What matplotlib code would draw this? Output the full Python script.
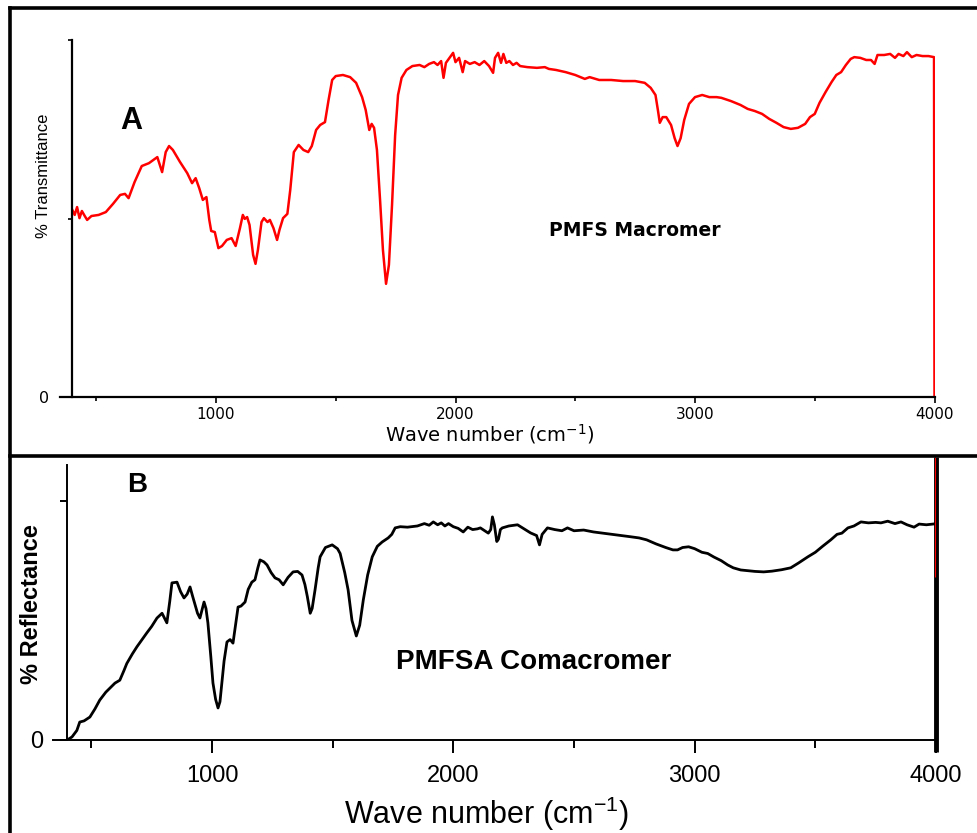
import matplotlib
matplotlib.use("Agg")
import matplotlib.pyplot as plt
from matplotlib import font_manager
from matplotlib.lines import Line2D

plt.rcParams['mathtext.default'] = 'regular'

# ---------------- data ----------------
# Panel A: PMFS Macromer, % Transmittance
wn_a = [400, 410, 420, 430, 440, 452, 462, 480, 510, 540, 570, 600, 620, 635, 660, 690, 720, 745,
        755, 775, 790, 804, 820, 850, 880, 900, 915, 930, 945, 960, 972, 980, 995, 1010, 1025, 1045,
        1065, 1082, 1100, 1112, 1120, 1130, 1140, 1155, 1165, 1175, 1190, 1200, 1215, 1225, 1240,
        1255, 1265, 1280, 1298, 1310, 1325, 1345, 1365, 1385, 1400, 1418, 1435, 1455, 1470, 1485,
        1500, 1530, 1560, 1585, 1610, 1625, 1640, 1650, 1660, 1672, 1685, 1697, 1710, 1722, 1735,
        1748, 1760, 1775, 1795, 1820, 1850, 1870, 1890, 1910, 1925, 1940, 1950, 1960, 1975, 1990,
        2000, 2015, 2030, 2040, 2060, 2080, 2100, 2120, 2140, 2157, 2165, 2178, 2190, 2200, 2212,
        2225, 2240, 2255, 2270, 2300, 2340, 2373, 2390, 2420, 2460, 2500, 2540, 2560, 2600, 2650,
        2700, 2750, 2790, 2815, 2835, 2845, 2853, 2865, 2880, 2900, 2915, 2927, 2940, 2955, 2975,
        3000, 3030, 3060, 3090, 3110, 3150, 3190, 3220, 3250, 3280, 3310, 3340, 3370, 3400, 3430,
        3460, 3480, 3500, 3520, 3545, 3570, 3590, 3610, 3630, 3650, 3665, 3690, 3715, 3735, 3750,
        3762, 3790, 3815, 3835, 3850, 3870, 3885, 3905, 3925, 3950, 3975, 3998, 4000]
tr_a = [52.4, 51.0, 53.2, 50.1, 52.1, 50.7, 49.6, 50.7, 51.0, 51.8, 54.1, 56.6, 56.9, 55.7, 60.2,
        64.7, 65.5, 66.7, 67.2, 63.0, 68.6, 70.3, 69.2, 65.8, 62.7, 59.9, 61.3, 58.5, 55.2, 56.0,
        49.6, 46.5, 46.2, 41.7, 42.3, 44.0, 44.5, 42.3, 47.3, 51.0, 49.9, 50.4, 48.2, 39.8, 37.3,
        41.2, 49.0, 50.1, 49.0, 49.6, 47.3, 44.0, 46.8, 50.1, 51.3, 58.0, 68.6, 70.6, 69.2, 68.6,
        70.3, 74.8, 76.2, 77.0, 83.2, 88.8, 89.9, 90.2, 89.6, 88.0, 84.0, 80.4, 74.8, 76.5, 75.4,
        69.2, 55.2, 41.2, 31.7, 37.0, 53.8, 73.4, 84.6, 89.4, 91.6, 92.7, 93.0, 92.4, 93.3, 93.8,
        93.0, 94.1, 89.4, 93.6, 95.0, 96.4, 93.8, 95.0, 91.0, 94.1, 93.3, 93.8, 93.0, 94.1, 92.7,
        90.8, 95.0, 96.4, 93.6, 96.1, 93.6, 94.1, 93.0, 93.6, 92.7, 92.4, 92.2, 92.4, 91.9, 91.6,
        91.0, 90.2, 89.1, 89.6, 88.8, 88.8, 88.5, 88.5, 88.0, 86.6, 84.6, 80.4, 76.8, 78.4, 78.4,
        76.2, 72.5, 70.3, 72.5, 77.6, 82.1, 84.0, 84.6, 84.0, 84.0, 83.8, 82.9, 81.8, 80.7, 80.1,
        79.3, 77.9, 76.8, 75.6, 75.1, 75.4, 76.5, 78.4, 79.3, 82.4, 85.4, 88.2, 90.2, 91.0, 93.0,
        94.7, 95.2, 95.0, 94.4, 94.4, 93.3, 95.8, 95.8, 96.1, 95.0, 96.1, 95.5, 96.6, 95.2, 95.8,
        95.5, 95.5, 95.2, 0.0]

# Panel B: PMFSA Comacromer, % Reflectance
wn_b = [400, 420, 440, 452, 470, 494, 515, 535, 560, 598, 618, 635, 647, 670, 689, 710, 730, 750,
        772, 793, 813, 825, 834, 855, 870, 884, 897, 909, 920, 940, 950, 967, 975, 983, 995, 1004,
        1015, 1025, 1033, 1041, 1050, 1062, 1075, 1087, 1100, 1108, 1120, 1137, 1150, 1165, 1178,
        1190, 1199, 1215, 1228, 1245, 1261, 1278, 1295, 1315, 1336, 1355, 1373, 1385, 1395, 1407,
        1415, 1427, 1440, 1448, 1470, 1498, 1520, 1531, 1550, 1564, 1580, 1598, 1612, 1627, 1645,
        1664, 1685, 1705, 1730, 1745, 1759, 1780, 1810, 1851, 1880, 1900, 1917, 1935, 1950, 1965,
        1980, 2000, 2020, 2041, 2060, 2080, 2100, 2112, 2130, 2145, 2155, 2162, 2170, 2180, 2187,
        2195, 2203, 2230, 2266, 2290, 2320, 2345, 2357, 2368, 2390, 2420, 2450, 2473, 2500, 2540,
        2581, 2620, 2660, 2700, 2734, 2770, 2801, 2840, 2880, 2910, 2929, 2950, 2975, 3000, 3030,
        3054, 3080, 3110, 3137, 3160, 3191, 3220, 3250, 3286, 3320, 3360, 3398, 3430, 3469, 3500,
        3530, 3564, 3590, 3610, 3635, 3660, 3689, 3720, 3750, 3772, 3800, 3830, 3855, 3880, 3909,
        3930, 3960, 3996]
rf_b = [0.0, 1.3, 4.0, 7.5, 8.0, 9.6, 13.0, 16.7, 20.0, 23.8, 25.0, 29.0, 32.0, 36.0, 39.0, 42.0,
        44.8, 47.5, 51.0, 53.0, 49.0, 58.0, 65.7, 66.0, 62.0, 59.4, 61.0, 64.0, 60.0, 53.0, 51.0,
        57.7, 55.0, 49.0, 35.0, 23.8, 17.0, 13.4, 16.0, 23.8, 33.0, 41.0, 42.0, 40.5, 50.0, 55.6,
        56.0, 57.7, 63.0, 66.0, 67.0, 72.0, 75.3, 74.5, 73.2, 70.0, 67.8, 67.0, 64.9, 68.0, 70.3,
        70.5, 69.0, 65.0, 60.0, 53.0, 55.0, 62.8, 72.0, 76.6, 80.5, 81.6, 80.0, 78.0, 70.0, 62.8,
        50.0, 43.5, 48.0, 58.6, 69.0, 76.6, 81.0, 82.8, 84.5, 86.0, 88.7, 89.2, 89.0, 89.5, 90.5,
        89.8, 91.2, 90.0, 90.8, 89.5, 90.5, 89.2, 88.5, 87.0, 89.0, 88.0, 88.3, 88.7, 87.5, 86.5,
        88.0, 93.3, 90.0, 83.0, 84.0, 88.0, 88.7, 89.5, 90.0, 88.5, 86.6, 85.5, 81.6, 86.0, 88.7,
        88.0, 87.5, 88.7, 87.5, 87.8, 87.0, 86.5, 86.0, 85.5, 85.0, 84.5, 83.7, 82.0, 80.5, 79.5,
        79.5, 80.5, 80.8, 80.0, 78.5, 78.0, 76.5, 75.0, 73.2, 72.0, 71.1, 70.8, 70.5, 70.3, 70.6,
        71.2, 72.0, 74.0, 76.6, 78.5, 81.0, 83.7, 86.0, 86.5, 88.7, 89.5, 91.2, 90.8, 91.0, 90.8,
        91.5, 90.5, 91.2, 90.0, 89.0, 90.3, 90.0, 90.4]

xticks_major = [1000, 2000, 3000, 4000]
xticks_minor = [500, 1500, 2500, 3500]

# ---------------- fonts ----------------
names = {f.name for f in font_manager.fontManager.ttflist}
narrow = 'Liberation Sans Narrow' if 'Liberation Sans Narrow' in names else 'Liberation Sans'
narrow_size = 14 if narrow == 'Liberation Sans Narrow' else 12
ARIAL = ['Liberation Sans', 'DejaVu Sans']
WIDE = ['DejaVu Sans']

W, H = 977, 833
fig = plt.figure(figsize=(W / 100, H / 100), dpi=100)


def fx(px):
    return px / W


def fy(py):
    return 1 - py / H


# ---------------- Panel A ----------------
axA = fig.add_axes([fx(72.3), fy(397), fx(934.5) - fx(72.3), fy(40) - fy(397)])
axA.plot(wn_a, tr_a, color='#ff0000', lw=1.8, solid_joinstyle='round')
axA.set_xlim(400, 4000)
axA.set_ylim(0, 100)
for s in ['top', 'right']:
    axA.spines[s].set_visible(False)
axA.spines['left'].set_linewidth(1.6)
axA.spines['bottom'].set_linewidth(1.6)
axA.spines['bottom'].set_bounds(350, 4000)
axA.set_xticks(xticks_major)
axA.set_xticks(xticks_minor, minor=True)
axA.set_yticks([0, 50, 100])
axA.set_yticklabels(['0', '', ''])
axA.tick_params(axis='x', which='major', length=4, width=1.2, pad=3, labelsize=11)
axA.tick_params(axis='x', which='minor', length=3, width=1.2)
axA.tick_params(axis='y', length=3, width=1.2, pad=14, labelsize=11.5)
for lab in axA.get_xticklabels() + axA.get_yticklabels():
    lab.set_family(WIDE)
axA.text(0.0685, 0.773, 'A', transform=axA.transAxes, ha='center', va='center',
         fontsize=22, fontweight='bold', family=ARIAL)
axA.text(2749, 46.5, 'PMFS Macromer', ha='center', va='center',
         fontsize=13.5, fontweight='bold', family=WIDE)
fig.text(fx(490), fy(434), 'Wave number (cm$^{-1}$)', ha='center', va='center',
         fontsize=14, family=WIDE)
fig.text(fx(43), fy(176), '% Transmittance', ha='center', va='center', rotation=90,
         fontsize=narrow_size, family=[narrow, 'DejaVu Sans'])

# ---------------- Panel B ----------------
axB = fig.add_axes([fx(67.2), fy(740), fx(936) - fx(67.2), fy(465) - fy(740)])
axB.plot(wn_b, rf_b, color='black', lw=2.0, solid_joinstyle='round')
axB.set_xlim(400, 4000)
axB.set_ylim(0, 115)
for s in ['top', 'right']:
    axB.spines[s].set_visible(False)
axB.spines['left'].set_linewidth(1.4)
axB.spines['bottom'].set_linewidth(1.4)
axB.spines['bottom'].set_bounds(342, 4000)
axB.set_xticks(xticks_major)
axB.set_xticks(xticks_minor, minor=True)
axB.set_yticks([0, 100])
axB.set_yticklabels(['0', ''])
axB.tick_params(axis='x', which='major', length=9, width=1.4, pad=9, labelsize=17)
axB.tick_params(axis='x', which='minor', length=6, width=1.4)
axB.tick_params(axis='y', length=5, width=1.4, pad=12, labelsize=17)
for lab in axB.get_xticklabels() + axB.get_yticklabels():
    lab.set_family(ARIAL)
# thick vertical bar at the right end of panel B
axB.axvline(4000, ymin=-0.044, ymax=1.03, color='black', lw=3.5, clip_on=False, solid_capstyle='butt')
axB.axvline(3997, ymin=0.593, ymax=1.03, color='#ff0000', lw=0.8, clip_on=False, solid_capstyle='butt')
axB.text(0.0806, 0.927, 'B', transform=axB.transAxes, ha='center', va='center',
         fontsize=20, fontweight='bold', family=ARIAL)
axB.text(2331, 32.6, 'PMFSA Comacromer', ha='center', va='center',
         fontsize=20, fontweight='bold', family=ARIAL)
fig.text(fx(487), fy(814), 'Wave number (cm$^{-1}$)', ha='center', va='center',
         fontsize=22, family=ARIAL)
fig.text(fx(32), fy(604), '% Reflectance', ha='center', va='center', rotation=90,
         fontsize=17, fontweight='bold', family=ARIAL)

# ---------------- frame borders ----------------
frame_kw = dict(color='black', lw=2.6, transform=fig.transFigure, solid_capstyle='projecting')
fig.add_artist(Line2D([fx(10), fx(10)], [fy(8), fy(833)], **frame_kw))
fig.add_artist(Line2D([fx(10), fx(977)], [fy(8), fy(8)], **frame_kw))
fig.add_artist(Line2D([fx(10), fx(977)], [fy(456), fy(456)], **frame_kw))

fig.savefig('out.png', dpi=100)
